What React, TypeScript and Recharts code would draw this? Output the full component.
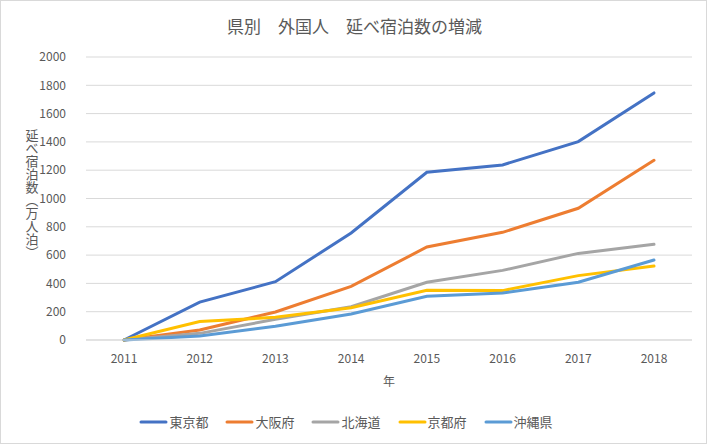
import { LineChart, Line, XAxis, YAxis, CartesianGrid, Legend } from 'recharts';

const years = ['2011', '2012', '2013', '2014', '2015', '2016', '2017', '2018'];
const tokyo = [0, 268, 412, 756, 1185, 1237, 1402, 1746];
const osaka = [0, 71, 198, 379, 657, 761, 931, 1270];
const hokkaido = [0, 47, 146, 235, 408, 492, 612, 676];
const kyoto = [0, 130, 160, 228, 351, 349, 455, 523];
const okinawa = [0, 28, 97, 184, 309, 332, 408, 565];
const yTicks = [0, 200, 400, 600, 800, 1000, 1200, 1400, 1600, 1800, 2000];

const seriesList = [
  { key: 'tokyo', name: '東京都', color: '#4472C4', values: tokyo },
  { key: 'osaka', name: '大阪府', color: '#ED7D31', values: osaka },
  { key: 'hokkaido', name: '北海道', color: '#A5A5A5', values: hokkaido },
  { key: 'kyoto', name: '京都府', color: '#FFC000', values: kyoto },
  { key: 'okinawa', name: '沖縄県', color: '#5B9BD5', values: okinawa },
];

const data = years.map((year, i) => {
  const row: Record<string, string | number> = { year };
  seriesList.forEach(s => {
    row[s.key] = s.values[i];
  });
  return row;
});

const FONT = '"Noto Sans CJK JP", "Noto Sans", sans-serif';
const TEXT = '#595959';

const YLabel = ({ viewBox }: any) => {
  return (
    <text
      x={32}
      y={viewBox.y + viewBox.height / 2 - 70}
      fill={TEXT}
      fontSize={13}
      fontFamily={FONT}
      style={{ writingMode: 'vertical-rl' as any }}
    >
      延べ宿泊数（万人泊）
    </text>
  );
};

const LegendContent = () => (
  <div style={{ display: 'flex', justifyContent: 'center', gap: 17, paddingTop: 6, fontFamily: FONT, fontSize: 13, color: TEXT }}>
    {seriesList.map(s => (
      <div key={s.key} style={{ display: 'flex', alignItems: 'center' }}>
        <svg width={29} height={6} style={{ marginRight: 1 }}>
          <line x1={2} y1={3} x2={27} y2={3} stroke={s.color} strokeWidth={3} strokeLinecap="round" />
        </svg>
        <span>{s.name}</span>
      </div>
    ))}
  </div>
);

export default function App() {
  return (
    <div style={{ position: 'absolute', left: 0, top: 0, width: 707, height: 444, background: '#fff', border: '1px solid #D9D9D9', boxSizing: 'border-box' }}>
      <div style={{ position: 'absolute', left: 0, top: 12, width: 707, textAlign: 'center', fontFamily: FONT, fontSize: 17, color: TEXT }}>
        県別　外国人　延べ宿泊数の増減
      </div>
      <div style={{ position: 'absolute', left: -1, top: -1 }}>
        <LineChart width={707} height={444} data={data} margin={{ top: 57, right: 15, bottom: 8, left: 0 }}>
          <CartesianGrid vertical={false} stroke="#D9D9D9" />
          <XAxis
            dataKey="year"
            padding={{ left: 38, right: 38 }}
            axisLine={{ stroke: '#D9D9D9' }}
            tickLine={false}
            tickMargin={8}
            height={66}
            tick={{ fill: TEXT, fontSize: 12, fontFamily: FONT }}
            label={{ value: '年', position: 'insideBottom', offset: 20, fill: TEXT, fontSize: 12, fontFamily: FONT }}
          />
          <YAxis
            width={86}
            domain={[0, 2000]}
            ticks={yTicks}
            axisLine={false}
            tickLine={false}
            tickMargin={14}
            tick={{ fill: TEXT, fontSize: 12, fontFamily: FONT }}
            label={<YLabel />}
          />
          <Legend verticalAlign="bottom" height={30} content={<LegendContent />} />
          {seriesList.map(s => (
            <Line
              key={s.key}
              dataKey={s.key}
              name={s.name}
              stroke={s.color}
              strokeWidth={3}
              dot={false}
              strokeLinecap="round"
              isAnimationActive={false}
            />
          ))}
        </LineChart>
      </div>
    </div>
  );
}
